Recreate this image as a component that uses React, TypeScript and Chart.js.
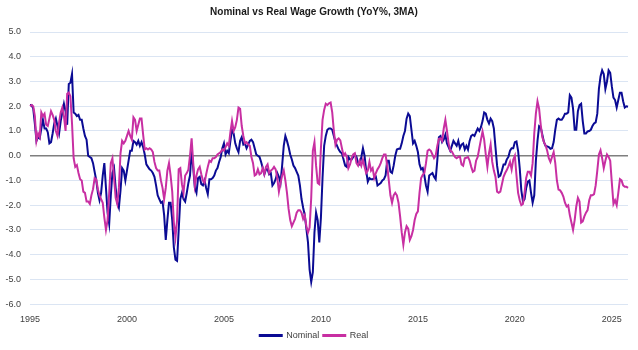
import React, { useEffect, useRef } from 'react';
import { Chart, registerables } from 'chart.js';

Chart.register(...registerables);

const START_YEAR = 1995;
const TITLE = 'Nominal vs Real Wage Growth (YoY%, 3MA)';
const SERIES_NAMES = ['Nominal', 'Real'];
const LABEL_YEARS = [1995, 2000, 2005, 2010, 2015, 2020, 2025];

const nominal = [
  2.05, 2.05, 1.9, 1.3, 0.6, 0.75, 0.7, 1.1, 1.45, 1.1,
  1.1, 0.95, 0.5, 0.55, 0.9, 1.3, 1.5, 1.2, 0.9, 1.4,
  1.75, 2.1, 1.8, 1.25, 2.9, 2.95, 3.3, 1.75, 1.7, 1.6,
  1.65, 1.45, 1.45, 1.1, 0.8, 0.65, 0.0, -0.05, -0.1, -0.3,
  -0.65, -1.0, -1.5, -1.8, -1.5, -0.8, -0.3, -1.3, -2.3, -2.75,
  -1.6, -0.7, -0.5, -1.3, -1.9, -2.1, -1.4, -0.5, -0.6, -1.0,
  -0.6, -0.2, 0.2, 0.2, 0.6, 0.55, 0.45, 0.6, 0.4, 0.55,
  0.35, 0.05, -0.35, -0.45, -0.55, -0.6, -0.7, -0.85, -1.2, -1.6,
  -1.75, -1.9, -1.85, -2.4, -3.4, -2.6, -1.9, -1.9, -2.6, -3.7,
  -4.2, -4.25, -3.0, -1.75, -1.5, -1.75, -1.85, -1.5, -1.1, -0.8,
  0.2, -0.5, -1.3, -1.5, -0.9, -0.85, -1.15, -1.2, -1.0, -1.3,
  -1.55, -0.95, -0.95, -0.9, -0.8, -0.6, -0.5, -0.25, -0.05, 0.3,
  0.5, 0.05, 0.2, 0.1, 0.6, 1.05, 0.9, 0.5, 0.3, 0.15,
  0.6, 0.75, 0.45, 0.5, 0.3, 0.45, 0.6, 0.65, 0.55, 0.3,
  0.05, 0.0, -0.05, -0.25, -0.5, -0.75, -0.55, -0.55, -0.75, -0.7,
  -1.2, -1.1, -0.95, -0.7, -0.85, -1.1, -0.4, 0.4, 0.8, 0.6,
  0.35, 0.05, -0.15, -0.4, -0.5, -0.65, -0.8, -1.2, -1.75, -2.1,
  -2.4, -2.95, -3.5, -4.6, -5.1, -4.7, -3.1, -2.3, -2.6, -3.5,
  -2.5, -0.9, 0.4, 0.8, 1.05, 1.1, 1.1, 1.05, 0.8, 0.55,
  0.4, 0.25, 0.15, 0.1, -0.15, -0.4, -0.45, -0.05, -0.15, -0.15,
  -0.05, 0.05, -0.05, -0.3, -0.35, -0.05, 0.3, 0.0, -0.6, -1.05,
  -0.9, -0.95, -0.95, -0.9, -0.85, -1.2, -1.15, -1.1, -1.0, -0.95,
  -0.8, -0.2, -0.2, -0.65, -0.7, -0.4, 0.0, 0.25, 0.28, 0.28,
  0.5, 0.8, 1.0, 1.5, 1.7, 1.6, 1.05, 0.5, 0.6, 0.4,
  0.15, -0.35, -0.55, -0.5, -0.8, -1.2, -1.45, -0.8, -0.75, -0.7,
  -0.85, -0.95, -0.2, 0.75, 0.8, 0.55, 0.65, 0.85, 0.5, 0.35,
  0.2, 0.4, 0.6, 0.5, 0.4, 0.6, 0.3, 0.45, 0.5, 0.25,
  0.4, 0.25, 0.6, 0.8, 0.85, 0.8, 0.95, 1.1, 1.0, 1.15,
  1.4, 1.75, 1.7, 1.45, 1.3, 1.5, 1.4, 1.1, 0.35, -0.4,
  -0.85, -0.8, -0.6, -0.35, -0.35, -0.15, -0.05, 0.2, 0.3, 0.3,
  0.55, 0.58, 0.2, -0.5, -1.4, -1.85, -1.75, -1.3, -1.05, -1.0,
  -1.5, -1.9, -1.6, -0.2, 0.6, 1.2, 1.15, 0.85, 0.55, 0.4,
  0.38, 0.35, 0.28, 0.3, 0.55, 1.05, 1.45, 1.5, 1.45, 1.45,
  1.55, 1.7, 1.7, 1.75, 2.45, 2.35, 1.9, 1.05, 1.05, 1.8,
  2.05, 2.1, 1.4, 0.9, 0.9, 0.98, 1.0, 1.05, 1.2, 1.3,
  1.35, 1.7, 2.7, 3.2, 3.45, 3.3, 2.7, 3.0, 3.45, 3.35,
  2.8, 2.35, 2.25, 1.95, 2.25, 2.55, 2.55, 2.2, 1.95, 2.0, 1.98,
];

const real = [
  2.0, 2.05, 2.0, 1.6, 0.6, 0.9, 0.75, 1.75, 1.6, 1.7,
  1.25, 1.2, 1.5, 1.8, 1.65, 1.45, 1.0, 0.8, 1.35, 1.75,
  1.95, 1.6, 1.0, 2.5, 2.55, 2.4, 1.3, -0.1, -0.45, -0.38,
  -0.7, -0.95, -1.0, -1.45, -1.5, -1.85, -1.85, -1.95, -1.6, -1.35,
  -0.9, -0.95, -1.35, -1.6, -1.75, -1.9, -2.5, -3.0, -2.6, -1.5,
  -0.3, -0.1, -0.9, -1.7, -1.95, -1.3, 0.1, 0.6, 0.5, 0.6,
  0.8, 1.0, 0.8, 0.65, 1.55, 1.45, 1.0, 1.25, 1.5, 1.5,
  0.85, 0.25, 0.3, 0.25, 0.3, 0.25, 0.15, -0.25, -0.5, -0.6,
  -0.6, -1.0, -1.3, -1.75, -1.3, -0.6, -0.3, -0.8, -1.45, -2.7,
  -3.3, -2.6, -0.55, -0.5, -1.15, -1.5, -0.8, -0.7, -0.56, 0.0,
  0.7, -0.3, -1.2, -0.8, -0.55, -0.45, -0.75, -1.0, -1.1, -0.75,
  -0.45, -0.2, -0.25, -0.1, -0.1, -0.05, 0.05, 0.1, 0.15, 0.25,
  0.2, 0.35, 0.5, 0.4, 0.95, 1.4, 1.0, 1.15, 1.45, 1.95,
  1.9, 1.2, 0.8, 0.5, 0.55, 0.45, 0.4, -0.05, -0.3, -0.8,
  -0.75, -0.55, -0.75, -0.7, -0.5, -0.75, -0.45, -0.35, -0.7, -0.6,
  -0.55, -0.45, -0.55, -0.9, -1.45, -1.1, -0.8, -0.6, -1.0, -1.5,
  -2.15, -2.6, -2.85, -2.7, -2.55, -2.3, -2.2, -2.2, -2.3, -2.55,
  -2.4, -2.85, -3.1, -2.9, -1.7, 0.2, 0.55, -0.4, -1.1, -1.15,
  0.3, 1.45, 1.85, 2.1, 2.05, 2.12, 2.15, 1.75, 1.0, 0.45,
  0.65, 0.7, 0.62, 0.3, 0.0, 0.1, -0.05, -0.5, -0.35, -0.1,
  0.05, 0.1, -0.3, -0.4, -0.2, -0.4, -0.15, -0.45, -0.7, -0.6,
  -0.25, -0.6, -0.5, -0.9, -0.7, -0.55, -0.45, -0.3, -0.1, 0.05,
  0.05, -0.4, -1.0, -1.6, -1.9, -1.6, -1.5, -1.6, -1.9, -2.45,
  -3.1, -3.6, -3.1, -2.85, -2.95, -3.4, -3.25, -3.0, -2.6, -2.35,
  -2.25, -1.5, -0.9, -0.77, -0.7, -0.3, 0.2, 0.25, 0.2, 0.05,
  -0.1, 0.0, 0.4, 0.68, 0.7, 0.6, 1.1, 1.45, 1.0, 0.5,
  0.2, 0.17, 0.05, -0.05, -0.1, -0.05, -0.03, -0.35, -0.4, -0.1,
  -0.08, -0.05, -0.2, -0.45, -0.65, -0.6, -0.2, -0.05, 0.3, 0.65,
  0.98, 0.65, 0.05, -0.45, 0.1, 0.45, -0.25, -0.6, -0.85, -1.45,
  -1.5, -1.45, -1.15, -0.85, -0.7, -0.58, -0.43, -0.25, -0.56, -0.16,
  0.0, -0.8, -1.5, -1.8, -2.0, -1.95, -1.5, -0.9, -0.65, -0.65,
  -0.8, -0.3, 0.9, 1.7, 2.2, 1.9, 1.25, 0.75, 0.55, 0.42,
  0.2, -0.1, -0.25, -0.05, 0.15, -0.3, -1.0, -1.37, -1.4, -1.5,
  -1.65, -1.9, -2.05, -2.0, -2.4, -2.7, -3.0, -2.6, -2.05, -1.7,
  -1.85, -2.7, -2.65, -2.45, -2.3, -2.2, -1.8, -1.6, -1.6, -1.55,
  -1.2, -0.6, 0.05, 0.22, -0.1, -0.5, -0.2, 0.05, -0.05, -0.2,
  -1.1, -1.95, -1.8, -2.0, -1.5, -0.95, -1.0, -1.2, -1.25, -1.25, -1.3,
];

const monthLabels = nominal.map((_, i) => {
  const year = START_YEAR + Math.floor(i / 12);
  const month = (i % 12) + 1;
  return `${year}-${String(month).padStart(2, '0')}`;
});

const FONT = '"Liberation Sans", Arial, sans-serif';
const NOMINAL_COLOR = '#0b0b94';
const REAL_COLOR = '#c82fa2';

export default function App() {
  const canvasRef = useRef<HTMLCanvasElement | null>(null);

  useEffect(() => {
    const canvas = canvasRef.current;
    if (!canvas) return;
    const chart = new Chart(canvas, {
      type: 'line',
      data: {
        labels: monthLabels,
        datasets: [
          {
            label: SERIES_NAMES[0],
            data: nominal,
            borderColor: NOMINAL_COLOR,
            backgroundColor: NOMINAL_COLOR,
            borderWidth: 2,
            pointRadius: 0,
            tension: 0,
            order: 1,
          },
          {
            label: SERIES_NAMES[1],
            data: real,
            borderColor: REAL_COLOR,
            backgroundColor: REAL_COLOR,
            borderWidth: 2,
            pointRadius: 0,
            tension: 0,
            order: 0,
          },
        ],
      },
      options: {
        animation: false,
        responsive: true,
        maintainAspectRatio: false,
        layout: { padding: { left: 0, right: 10, top: 0, bottom: 0 } },
        plugins: {
          title: {
            display: true,
            text: TITLE,
            color: '#1a1a1a',
            font: { family: FONT, size: 10, weight: 'bold' },
            padding: { top: 6, bottom: 14 },
          },
          legend: {
            position: 'bottom',
            labels: {
              boxWidth: 22,
              boxHeight: 1,
              color: '#404040',
              font: { family: FONT, size: 9 },
              padding: 4,
              sort: (a: any, b: any) => a.datasetIndex - b.datasetIndex,
            },
          },
          tooltip: { enabled: false },
        },
        scales: {
          x: {
            type: 'category',
            grid: { display: false },
            border: { display: false },
            ticks: {
              autoSkip: false,
              maxRotation: 0,
              minRotation: 0,
              color: '#404040',
              font: { family: FONT, size: 9 },
              padding: 2,
              callback: (_v: any, i: number) => {
                const year = START_YEAR + Math.floor(i / 12);
                return i % 12 === 0 && LABEL_YEARS.includes(year) ? String(year) : null;
              },
            },
          },
          y: {
            min: -6,
            max: 5,
            border: { display: false },
            grid: {
              drawTicks: false,
              color: (ctx: any) => (ctx.tick && ctx.tick.value === 0 ? '#7f7f7f' : '#dbe5f3'),
              lineWidth: (ctx: any) => (ctx.tick && ctx.tick.value === 0 ? 1.5 : 1),
            },
            ticks: {
              stepSize: 1,
              color: '#404040',
              font: { family: FONT, size: 9 },
              padding: 9,
              callback: (v: any) => Number(v).toFixed(1),
            },
            afterFit: (s: any) => {
              s.width = 30;
            },
          },
        },
      } as any,
    });
    return () => chart.destroy();
  }, []);

  return (
    <div style={{ position: 'fixed', left: 0, top: 0, width: 638, height: 350, background: '#fff' }}>
      <canvas ref={canvasRef} />
    </div>
  );
}
